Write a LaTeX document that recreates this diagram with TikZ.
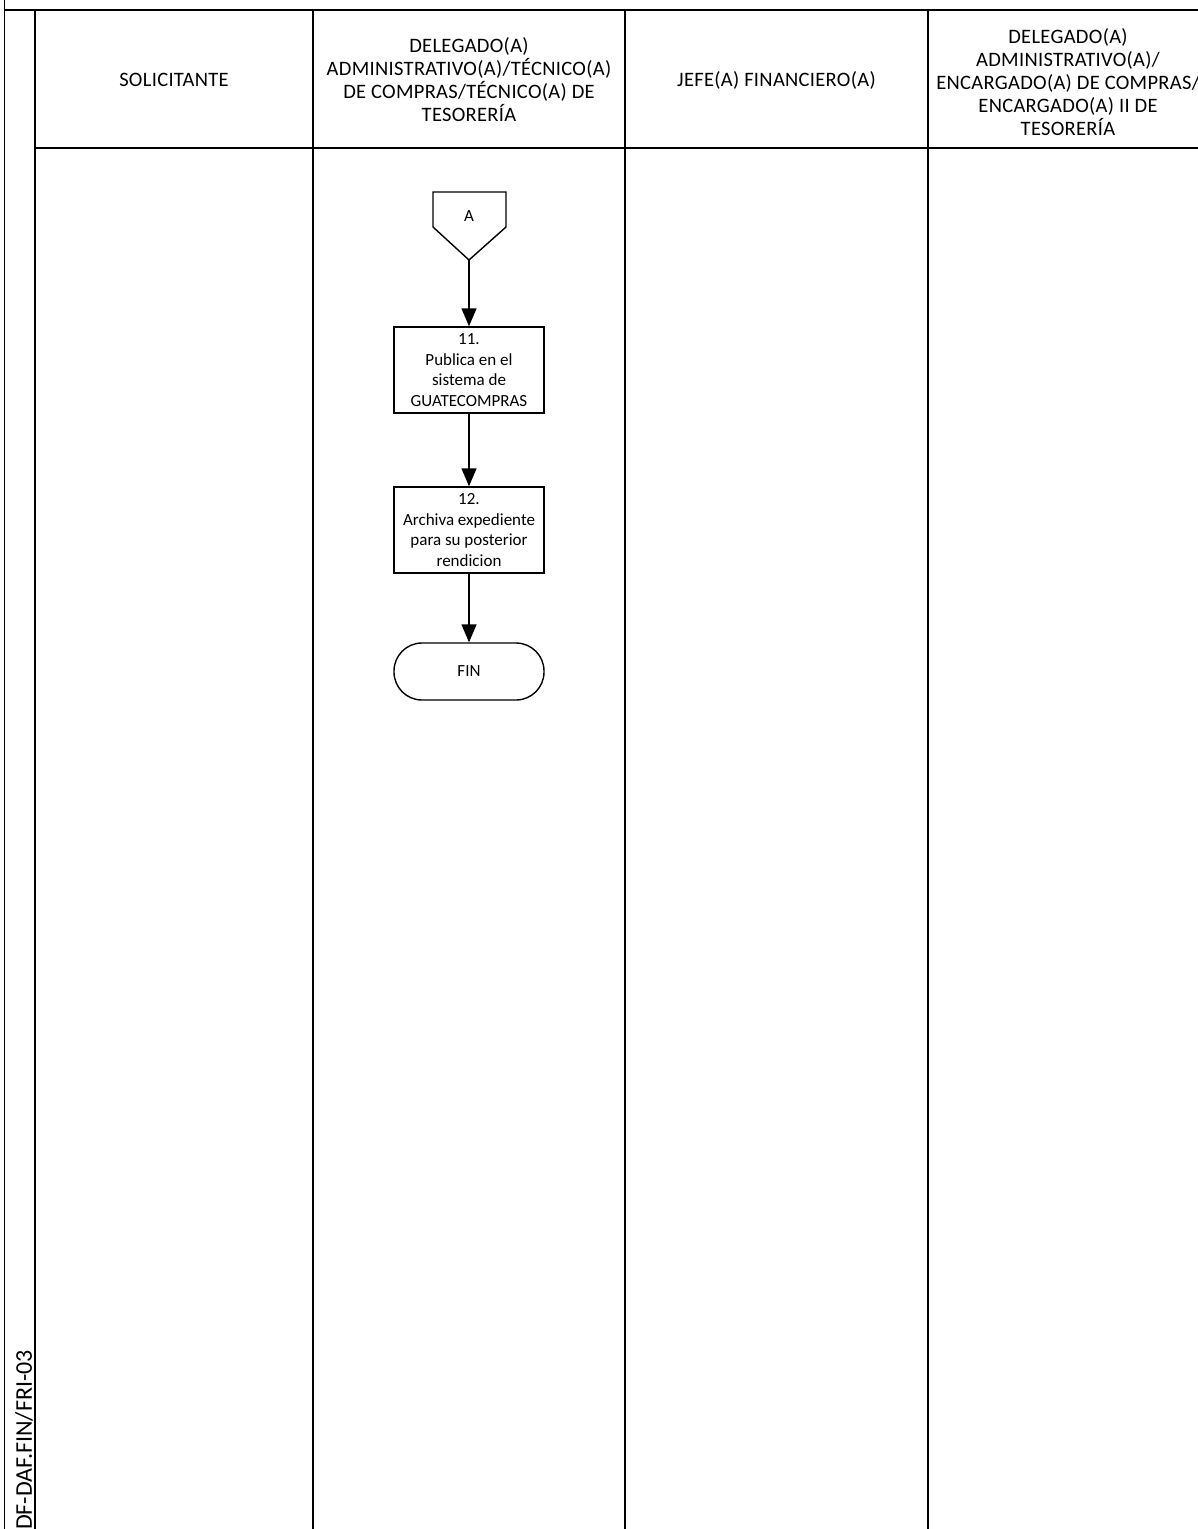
\documentclass[tikz,border=0pt]{standalone}
\usepackage{fontspec}
\setmainfont{Carlito}
\newfontfamily\hdrfont[LetterSpace=1.5]{Carlito}
\usetikzlibrary{arrows.meta}
\begin{document}
\begin{tikzpicture}[x=1pt,y=-1pt,
  lane/.style={line width=1.8pt,black},
  hdr/.style={align=center,font=\hdrfont\fontsize{20.5}{23}\selectfont,inner sep=0pt},
  procbox/.style={draw,line width=1.4pt,minimum width=150pt,minimum height=86pt,align=center,inner sep=1pt,font=\fontsize{17}{20.7}\selectfont},
  term/.style={draw,line width=1.4pt,minimum width=150pt,minimum height=57pt,rounded corners=28pt,font=\fontsize{17}{20.7}\selectfont},
  flow/.style={line width=1.4pt,-{Triangle[width=15pt,length=18pt]}}]
\useasboundingbox (0,0) rectangle (1198,1529);
\clip (0,0) rectangle (1198,1529);
% frame and lanes
\draw[lane] (4.5,-2) -- (4.5,1535);
\draw[lane] (4.5,10) -- (1205,10);
\draw[lane] (35,10) -- (35,1535);
\draw[lane] (35,148) -- (1205,148);
\draw[lane] (313,10) -- (313,1535);
\draw[lane] (625,10) -- (625,1535);
\draw[lane] (928,10) -- (928,1535);
% headers
\node[hdr] (h1) at (174,80) {SOLICITANTE};
\node[hdr] (h2) at (469,79.5) {DELEGADO(A)\\ADMINISTRATIVO(A)/TÉCNICO(A)\\DE COMPRAS/TÉCNICO(A) DE\\TESORERÍA};
\node[hdr] (h3) at (776.5,80) {JEFE(A) FINANCIERO(A)};
\node[hdr] (h4) at (1068,82) {DELEGADO(A)\\ADMINISTRATIVO(A)/\\ENCARGADO(A) DE COMPRAS/\\ENCARGADO(A) II DE\\TESORERÍA};
% side label
\node[rotate=90,anchor=south west,inner sep=0pt,font=\fontsize{24}{28}\selectfont] (code) at (33,1530) {DF-DAF.FIN/FRI-03};
% off-page connector A
\draw[line width=1.4pt] (433,192) -- (506,192) -- (506,227) -- (469,260) -- (433,227) -- cycle;
\node[font=\fontsize{17}{20.7}\selectfont,inner sep=0pt] (A) at (469,216) {A};
\coordinate (Abot) at (469,260);
% process
\node[procbox] (p11) at (469,370) {11.\\Publica en el\\sistema de\\GUATECOMPRAS};
\node[procbox] (p12) at (469,530) {12.\\Archiva expediente\\para su posterior\\rendicion};
\node[term] (fin) at (469,671.5) {FIN};
\draw[flow] (Abot) -- (p11.north);
\draw[flow] (p11.south) -- (p12.north);
\draw[flow] (p12.south) -- (fin.north);
\end{tikzpicture}
\end{document}
